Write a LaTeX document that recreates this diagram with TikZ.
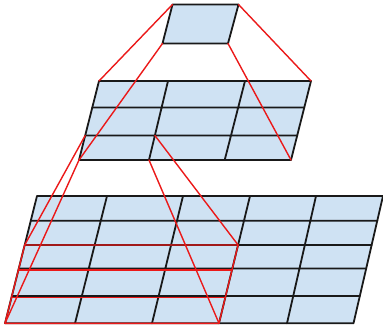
\documentclass[tikz,border=0pt]{standalone}
\definecolor{cellfill}{HTML}{CFE2F3}
\definecolor{linkred}{RGB}{235,25,25}
\begin{document}
\begin{tikzpicture}[x=1pt,y=-1pt,
  gridline/.style={black!90, line width=1.8pt, line cap=round, line join=round},
  link/.style={linkred, line width=1.4pt, line cap=round, line join=round}]
\useasboundingbox (0,0) rectangle (383,331);

% ---------- top parallelogram ----------
\coordinate (T1) at (172.5,4.5);
\coordinate (T2) at (238.5,4.5);
\coordinate (T3) at (228,43.5);
\coordinate (T4) at (162.5,43.5);
\fill[cellfill] (T1)--(T2)--(T3)--(T4)--cycle;
\draw[gridline] (T1)--(T2)--(T3)--(T4)--cycle;

% ---------- middle 3x3 grid ----------
\coordinate (MA) at (99,81);
\coordinate (MB) at (311,81);
\coordinate (MC) at (291,160);
\coordinate (MD) at (79,160);
\coordinate (ML1) at (92.3,107.5);
\coordinate (MR1) at (304.3,107.5);
\coordinate (ML2) at (85.2,135.5);
\coordinate (MR2) at (297.2,135.5);
\coordinate (MT1) at (168,81);
\coordinate (MS1) at (149,160);
\coordinate (MT2) at (245,81);
\coordinate (MS2) at (224.7,160);
\coordinate (MP) at (154.9,135.5);
\fill[cellfill] (MA)--(MB)--(MC)--(MD)--cycle;
\draw[gridline] (ML1)--(MR1) (ML2)--(MR2) (MT1)--(MS1) (MT2)--(MS2);
\draw[gridline] (MA)--(MB)--(MC)--(MD)--cycle;

% ---------- bottom 5x5 grid ----------
\coordinate (BA) at (37,196);
\coordinate (BB) at (383,196);
\coordinate (BC) at (353.5,323.3);
\coordinate (BD) at (5,323.3);
\coordinate (BL1) at (30.8,220.7);  \coordinate (BR1) at (377.3,220.7);
\coordinate (BL2) at (24.7,245);    \coordinate (BR2) at (371.6,245);
\coordinate (BL3) at (18.7,268.5);  \coordinate (BR3) at (366.2,268.5);
\coordinate (BL4) at (11.8,296.0);  \coordinate (BR4) at (359.8,296.0);
\coordinate (BT1) at (107,196);  \coordinate (BS1) at (75,323.3);
\coordinate (BT2) at (183,196);  \coordinate (BS2) at (152,323.3);
\coordinate (BT3) at (250,196);  \coordinate (BS3) at (219,323.3);
\coordinate (BT4) at (316,196);  \coordinate (BS4) at (287,323.3);
\fill[cellfill] (BA)--(BB)--(BC)--(BD)--cycle;
\draw[gridline] (BL1)--(BR1) (BL2)--(BR2) (BL3)--(BR3) (BL4)--(BR4)
  (BT1)--(BS1) (BT2)--(BS2) (BT3)--(BS3) (BT4)--(BS4);
\draw[gridline] (BA)--(BB)--(BC)--(BD)--cycle;

% ---------- red receptive-field lines ----------
\coordinate (R1) at (24.7,245);
\coordinate (R2) at (238.1,245);
\coordinate (RL3) at (18.3,270.2);  \coordinate (RR3) at (231.9,270.2);
\coordinate (RL4) at (11.4,297.7);  \coordinate (RR4) at (225.2,297.7);
\draw[link] (R1)--(R2)--(BS3)--(BD)--cycle;
\draw[link] (RL3)--(RR3) (RL4)--(RR4);

\draw[link] (T1)--(MA) (T2)--(MB) (T4)--(MD) (T3)--(MC);
\draw[link] (ML2)--(R1) (MP)--(R2) (MD)--(BD) (MS1)--(BS3);
\end{tikzpicture}
\end{document}
